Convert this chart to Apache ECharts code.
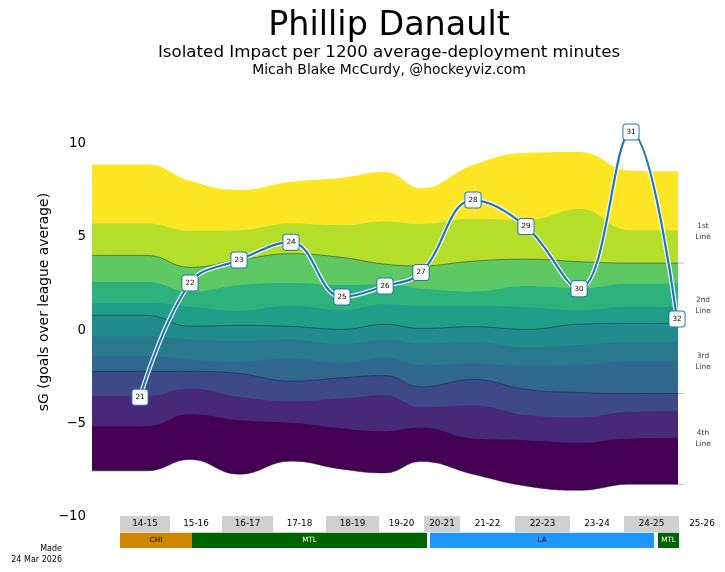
<!DOCTYPE html>
<html>
<head>
<meta charset="utf-8">
<style>
  html, body { margin: 0; padding: 0; background: #fff; }
  #chart-container { width: 725px; height: 572px; }
</style>
<script src="https://cdn.jsdelivr.net/npm/echarts@6/dist/echarts.min.js"></script>
</head>
<body>
<div id="chart-container"></div>
<script>
// timeline position of the band samples
var bandX = [0, 55, 98, 147, 199, 250, 293, 329, 381, 435, 488, 538, 586];

// band edges, top to bottom (sG)
var edge1 = [8.87, 8.87, 7.99, 7.50, 7.94, 8.16, 8.46, 7.60, 8.84, 9.49, 9.53, 8.53, 8.50];
var edge2 = [5.71, 5.71, 5.32, 5.35, 5.71, 5.62, 5.82, 5.68, 5.96, 5.89, 6.48, 5.35, 5.35];
var edge3 = [4.00, 4.00, 3.36, 3.75, 4.09, 3.89, 3.53, 3.44, 3.69, 3.80, 3.66, 3.59, 3.59];
var edge4 = [2.57, 2.57, 2.05, 2.41, 2.52, 2.41, 2.46, 2.23, 2.07, 2.36, 2.23, 2.50, 2.50];
var edge5 = [1.45, 1.45, 1.25, 1.03, 1.30, 1.07, 1.39, 1.29, 1.29, 1.23, 1.07, 1.25, 1.23];
var edge6 = [0.79, 0.79, 0.21, 0.25, 0.20, 0.04, 0.31, 0.09, 0.18, 0.04, 0.32, 0.36, 0.36];
var edge7 = [-0.36, -0.36, -0.50, -0.57, -0.50, -0.75, -0.50, -0.71, -0.63, -0.93, -0.80, -0.63, -0.63];
var edge8 = [-1.39, -1.39, -1.57, -1.70, -1.52, -1.75, -1.46, -1.87, -1.78, -1.91, -1.87, -1.66, -1.66];
var edge9 = [-2.21, -2.21, -2.21, -2.32, -2.73, -2.55, -2.43, -3.04, -2.64, -3.18, -3.34, -3.39, -3.39];
var edge10 = [-3.53, -3.53, -3.12, -3.57, -3.80, -3.66, -3.48, -4.11, -4.03, -4.55, -4.67, -4.37, -4.34];
var edge11 = [-5.14, -5.14, -4.50, -4.82, -4.96, -5.26, -5.41, -5.21, -5.80, -5.89, -6.03, -5.80, -5.77];
var edge12 = [-7.53, -7.53, -6.92, -7.71, -7.01, -7.44, -7.64, -7.03, -7.71, -8.35, -8.57, -8.25, -8.25];

var bandColors = ["#fde725", "#b5de2b", "#5ec962", "#2db27d", "#1f9e89", "#228b8d", "#2a788e", "#31688e", "#3e4989", "#482878", "#440154"];

// player by age
var ages = [21, 22, 23, 24, 25, 26, 27, 28, 29, 30, 31, 32];
var ageX = [48, 98, 147, 199, 250, 293, 329, 381, 434, 487, 539, 585];
var ageValues = [-3.59, 2.52, 3.75, 4.71, 1.77, 2.36, 3.08, 6.96, 5.54, 2.22, 10.6, 0.59];

// season strip
var seasons = ["14-15", "15-16", "16-17", "17-18", "18-19", "19-20", "20-21", "21-22", "22-23", "23-24", "24-25", "25-26"];
var seasonEdges = [28, 78, 130, 181, 234, 287, 332, 368, 423, 478, 532, 587, 633];
var teams = ["CHI", "MTL", "LA", "MTL"];
var teamStart = [28, 100, 338, 566];
var teamEnd = [100, 335, 562, 587];
var teamColors = ["#d08700", "#006400", "#1e96ff", "#006400"];
var teamText = ["#000", "#fff", "#000", "#fff"];

// line groups on the right
var lineNames = ["1st\nLine", "2nd\nLine", "3rd\nLine", "4th\nLine"];
var lineLabelY = [5.25, 1.34, -1.69, -5.78];
var lineTicks = [3.59, 0.36, -3.39, -8.25];

var FONT = "DejaVu Sans";

function pairs(xs, ys) {
  return xs.map(function (x, i) { return [x, ys[i]]; });
}

var edges = [edge1, edge2, edge3, edge4, edge5, edge6, edge7, edge8, edge9, edge10, edge11, edge12];
var series = [];

// each edge fills down to the axis floor, the next one paints over it
edges.forEach(function (edge, i) {
  var hasLine = (i + 1) % 3 === 0;
  series.push({
    type: "line",
    data: pairs(bandX, edge),
    smooth: 0.45,
    symbol: "none",
    z: 2 + i * 0.01,
    lineStyle: { width: hasLine ? 0.6 : 0, color: "#10202a", opacity: hasLine ? 0.8 : 0 },
    areaStyle: { origin: "start", opacity: 1, color: i < bandColors.length ? bandColors[i] : "#fff" },
  });
});

// short ticks right of the bands
series.push({
  type: "custom",
  data: lineTicks.map(function (v) { return [586, v]; }),
  z: 3,
  renderItem: function (params, api) {
    var a = api.coord([api.value(0), api.value(1)]);
    return {
      type: "line",
      shape: { x1: a[0], y1: a[1], x2: a[0] + 6, y2: a[1] },
      style: { stroke: "#999", lineWidth: 0.7 },
    };
  },
});

// white casing, then the blue line with the age boxes
series.push({
  type: "line",
  data: pairs(ageX, ageValues),
  smooth: 0.4,
  symbol: "none",
  z: 5,
  lineStyle: { width: 4.5, color: "#fff" },
});
series.push({
  type: "line",
  data: pairs(ageX, ageValues),
  smooth: 0.4,
  symbol: "circle",
  symbolSize: 1,
  showAllSymbol: true,
  z: 6,
  lineStyle: { width: 2.2, color: "#1f77b4" },
  itemStyle: { color: "#1f77b4" },
  label: {
    show: true,
    position: "inside",
    formatter: function (p) { return ages[p.dataIndex]; },
    fontFamily: FONT,
    fontSize: 7.2,
    color: "#000",
    backgroundColor: "#fff",
    borderColor: "#1f77b4",
    borderWidth: 1,
    borderRadius: 2.5,
    padding: [4.5, 3, 3.5, 3],
  },
});

// line group names
series.push({
  type: "scatter",
  data: lineLabelY.map(function (v) { return [611, v]; }),
  symbolSize: 0,
  z: 4,
  label: {
    show: true,
    position: "inside",
    formatter: function (p) { return lineNames[p.dataIndex]; },
    fontFamily: FONT,
    fontSize: 7.4,
    lineHeight: 11,
    color: "#000",
  },
});

// seasons and teams below the plot
series.push({
  type: "custom",
  xAxisIndex: 1,
  yAxisIndex: 1,
  z: 7,
  data: seasons.map(function (s, i) { return [seasonEdges[i], seasonEdges[i + 1], i]; }),
  renderItem: function (params, api) {
    var i = api.value(2);
    var a = api.coord([api.value(0), 2]);
    var b = api.coord([api.value(1), 1]);
    return {
      type: "rect",
      shape: { x: a[0], y: a[1], width: b[0] - a[0], height: b[1] - a[1] },
      style: {
        fill: i % 2 === 0 ? "#d0d0d0" : "#fff",
        text: seasons[i],
        fontFamily: FONT,
        fontSize: 8.8,
        textFill: "#000",
      },
    };
  },
});
series.push({
  type: "custom",
  xAxisIndex: 1,
  yAxisIndex: 1,
  z: 7,
  data: teams.map(function (t, i) { return [teamStart[i], teamEnd[i], i]; }),
  renderItem: function (params, api) {
    var i = api.value(2);
    var a = api.coord([api.value(0), 1]);
    var b = api.coord([api.value(1), 0]);
    return {
      type: "rect",
      shape: { x: a[0], y: a[1] + 0.7, width: b[0] - a[0], height: b[1] - a[1] - 0.7 },
      style: {
        fill: teamColors[i],
        text: teams[i],
        fontFamily: FONT,
        fontSize: 7.2,
        textFill: teamText[i],
      },
    };
  },
});

var dom = document.getElementById("chart-container");
var myChart = echarts.init(dom, null, { renderer: "canvas" });

myChart.setOption({
  animation: false,
  backgroundColor: "#fff",
  title: [
    { text: "Phillip Danault", left: 384, top: 5, textAlign: "center", textStyle: { fontFamily: FONT, fontWeight: "normal", fontSize: 33.4, color: "#000" } },
    { text: "Isolated Impact per 1200 average-deployment minutes", left: 384, top: 39, textAlign: "center", textStyle: { fontFamily: FONT, fontWeight: "normal", fontSize: 16.7, color: "#000" } },
    { text: "Micah Blake McCurdy, @hockeyviz.com", left: 384, top: 58, textAlign: "center", textStyle: { fontFamily: FONT, fontWeight: "normal", fontSize: 13.9, color: "#000" } },
    { text: "Made\n24 Mar 2026", left: 57, top: 538, textAlign: "right", textStyle: { fontFamily: FONT, fontWeight: "normal", fontSize: 8, lineHeight: 11, color: "#000", align: "right" } },
  ],
  grid: [
    // bottom edge on a whole pixel, so the painted band floors leave no fringe
    { left: 92, right: 0, top: 87.225, height: 429.775 },
    { left: 92, right: 0, top: 516, height: 32 },
  ],
  xAxis: [
    { type: "value", gridIndex: 0, min: 0, max: 633, show: false },
    { type: "value", gridIndex: 1, min: 0, max: 633, show: false },
  ],
  yAxis: [
    {
      type: "value",
      gridIndex: 0,
      min: -10,
      max: 13,
      interval: 5,
      name: "sG (goals over league average)",
      nameLocation: "middle",
      nameGap: 41,
      nameRotate: 90,
      nameMoveOverlap: false,
      nameTextStyle: { fontFamily: FONT, fontSize: 13.9, color: "#000" },
      axisLine: { show: false },
      axisTick: { show: false },
      splitLine: { show: false },
      axisLabel: {
        showMaxLabel: false,
        margin: 6,
        padding: [6, 0, 0, 0],
        fontFamily: FONT,
        fontSize: 13.3,
        color: "#000",
        formatter: function (v) { return String(v).replace("-", "\u2212"); },
      },
    },
    { type: "value", gridIndex: 1, min: 0, max: 2, show: false },
  ],
  series: series,
});
</script>
</body>
</html>
